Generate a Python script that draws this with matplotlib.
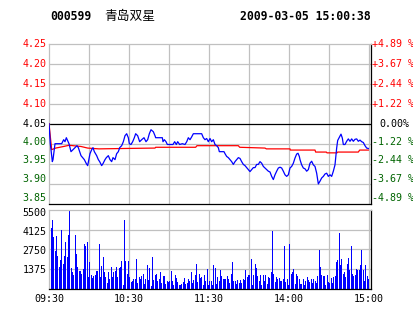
import numpy as np
import matplotlib
matplotlib.use("Agg")
import matplotlib.pyplot as plt

# ---------------- data ----------------
code = "000599"
name = "青岛双星"
stamp = "2009-03-05 15:00:38"
prev_close = 4.05

price_min = [0, 1, 2.5, 3, 4.5, 9.5, 11, 12, 13, 15, 16.5, 18, 19.5, 21, 22, 23, 24, 26.5, 28, 29,
             30.75, 32, 33, 34, 35.75, 37, 38, 39.5, 40.5, 42, 43, 44.5, 45.75, 47, 48, 49.5, 50.75,
             52, 53, 54.5, 55.75, 57, 58.25, 59.5, 60.25, 61.5, 62.75, 64, 65, 66.5, 68, 69.5, 71.25,
             72.75, 74, 75.25, 76.5, 78.25, 79.5, 80, 85, 85.5, 86.5, 87.75, 88.75, 93, 94.25, 95.5,
             96.5, 98, 100, 102, 103.3, 104.5, 105.75, 107, 108.25, 114.5, 115.75, 117, 118.25, 119.5,
             120.75, 122, 123.25, 124.5, 125.75, 127, 127.75, 131.25, 132, 133.25, 134.5, 135.75, 137,
             138.25, 139.5, 140.75, 142, 143.25, 144.5, 145.75, 147, 148.25, 149.5, 150.75, 152, 153.25,
             154.5, 155.75, 157, 158.25, 159.5, 160.75, 162, 163.25, 164.5, 165.75, 167, 168.25, 169.5,
             170.75, 172, 173.25, 174.5, 175.75, 177, 178.25, 179.5, 180.75, 182, 183.25, 184.5, 185.75,
             186.75, 187.75, 188.25, 189.5, 190.75, 192, 193.25, 194.5, 195.75, 197, 198.25, 199.5,
             200.75, 201.5, 202, 203.25, 204.5, 205.75, 207, 208.25, 209.5, 210.75, 212, 213.25, 214.5,
             215.25, 215.75, 216.5, 217.75, 219, 220, 220.75, 222, 223.25, 224.5, 225.75, 227, 228.25,
             229.5, 230.75, 232, 233.25, 234.5, 235.75, 237, 238.25, 239.5]
price = [4.05, 4.00, 3.955, 3.96, 4.00, 4.00, 4.01, 4.005, 4.015, 4.00, 3.98, 3.985, 3.99, 3.995, 3.99,
         3.98, 3.97, 3.96, 3.95, 3.945, 3.975, 3.985, 3.99, 3.98, 3.97, 3.96, 3.955, 3.945, 3.95, 3.96,
         3.965, 3.97, 3.96, 3.955, 3.965, 3.96, 3.975, 3.98, 3.99, 3.995, 4.005, 4.02, 4.025, 4.015,
         4.00, 3.998, 4.005, 4.015, 4.025, 4.02, 4.005, 4.01, 4.015, 4.005, 4.01, 4.025, 4.035, 4.03,
         4.02, 4.015, 4.015, 4.005, 4.01, 4.005, 3.998, 3.998, 4.005, 3.998, 4.005, 3.998, 4.00, 3.998,
         4.005, 4.015, 4.01, 4.017, 4.025, 4.025, 4.015, 4.01, 4.013, 4.005, 4.013, 4.005, 4.01, 3.998,
         3.995, 3.99, 3.98, 3.98, 3.975, 3.968, 3.965, 3.96, 3.955, 3.948, 3.955, 3.96, 3.965, 3.963,
         3.955, 3.948, 3.945, 3.94, 3.935, 3.93, 3.935, 3.94, 3.94, 3.948, 3.948, 3.955, 3.951, 3.943,
         3.939, 3.935, 3.931, 3.929, 3.918, 3.91, 3.922, 3.931, 3.939, 3.941, 3.939, 3.931, 3.922, 3.918,
         3.922, 3.939, 3.943, 3.951, 3.964, 3.974, 3.976, 3.968, 3.96, 3.947, 3.939, 3.937, 3.931, 3.935,
         3.951, 3.956, 3.947, 3.943, 3.926, 3.91, 3.899, 3.906, 3.914, 3.918, 3.924, 3.926, 3.918, 3.922,
         3.918, 3.931, 3.947, 3.972, 3.989, 4.008, 4.016, 4.024, 4.014, 3.998, 3.998, 4.006, 4.012,
         4.006, 4.012, 4.006, 4.011, 4.012, 4.006, 4.009, 4.005, 4.003, 3.995, 3.989, 3.988]

avg_min = [0, 2, 5, 11, 15, 24, 29, 37.5, 57, 79.5, 80, 110, 111, 142, 143, 162, 163, 180.75, 181,
           199.5, 200, 208, 208.5, 216, 216.5, 232, 233, 239.5]
avg_price = [4.05, 3.985, 3.989, 3.993, 3.996, 3.993, 3.989, 3.987, 3.988, 3.989, 3.991, 3.991, 3.995,
             3.995, 3.991, 3.989, 3.987, 3.987, 3.984, 3.984, 3.979, 3.979, 3.977, 3.977, 3.979, 3.979,
             3.984, 3.984]

volume = [4490, 4210, 4800, 3630, 2620, 3670, 2270, 1500, 1990, 4100,
          1750, 2270, 3280, 2220, 3740, 5430, 1450, 1170, 940, 3740,
          2390, 1520, 1220, 1220, 1050, 1400, 3090, 2970, 3230, 820,
          1830, 940, 750, 890, 980, 1220, 1220, 3090, 820, 1570,
          2220, 1170, 820, 420, 1170, 700, 1500, 820, 1170, 1260,
          1500, 820, 1450, 1520, 1920, 230, 4800, 1920, 1050, 1920,
          840, 470, 510, 660, 700, 2060, 420, 840, 700, 890,
          1050, 350, 660, 1640, 590, 1450, 160, 2220, 590, 940,
          1050, 510, 660, 1170, 420, 890, 890, 350, 510, 470,
          510, 1220, 560, 230, 980, 750, 470, 280, 280, 350,
          470, 750, 350, 370, 660, 510, 1170, 420, 590, 980,
          1750, 470, 1050, 750, 820, 230, 940, 510, 1360, 230,
          510, 510, 230, 1640, 1450, 350, 820, 510, 1290, 890,
          660, 660, 660, 870, 660, 420, 1050, 1870, 560, 510,
          350, 590, 420, 590, 420, 660, 590, 1290, 820, 980,
          980, 2060, 280, 940, 1750, 1450, 890, 510, 980,
          280, 940, 510, 980, 330, 820, 750, 1170, 4025, 1050,
          470, 820, 700, 750, 510, 510, 660, 3000, 470, 660,
          230, 3090, 1050, 1170, 1360, 350, 1050, 890, 700, 350,
          350, 660, 280, 510, 820, 590, 470, 660, 420, 700,
          510, 420, 890, 2690, 1520, 980, 890, 890, 280, 940,
          470, 420, 750, 420, 820, 890, 1830, 1990, 3860, 1680,
          2060, 1050, 1170, 820, 1750, 2110, 1290, 2970, 1050, 890,
          940, 1360, 1290, 1290, 1680, 2690, 1290, 510, 1680, 890,
          700]

price_ticks = [4.25, 4.20, 4.15, 4.10, 4.05, 4.00, 3.95, 3.90, 3.85]
pct_labels = ["+4.89 %", "+3.67 %", "+2.44 %", "+1.22 %", "0.00%", "-1.22 %", "-2.44 %", "-3.67 %", "-4.89 %"]
vol_ticks = [5500, 4125, 2750, 1375]
time_labels = ["09:30", "10:30", "11:30", "14:00", "15:00"]
time_pos = [0, 60, 120, 180, 240]

# ---------------- style ----------------
W, H = 414, 314
RED = "#ff0000"
GREEN = "#006400"
BLUE = "#0000ff"
GRID = "#c0c0c0"
MONO = "DejaVu Sans Mono"

fig = plt.figure(figsize=(W / 100, H / 100), dpi=100)
fig.patch.set_facecolor("white")

def fx(x):
    return x / W

def fy(y):
    return 1 - y / H

L, R = 49, 371
ax = fig.add_axes([fx(L), fy(203.5), fx(R - L), (203.5 - 44) / H])
axv = fig.add_axes([fx(L), fy(288.5), fx(R - L), (288.5 - 210) / H])

XMAX = 241.5
for a in (ax, axv):
    a.set_xlim(0, XMAX)
    a.set_xticks([])
    a.set_yticks([])
    a.set_facecolor("white")
    for t in range(30, 241, 30):
        a.axvline(t, color=GRID, lw=0.9, zorder=0)
    a.spines["left"].set_color(GRID)
    a.spines["top"].set_color(GRID)
    a.spines["right"].set_color("black")
    a.spines["bottom"].set_color("black")
    for s in a.spines.values():
        s.set_linewidth(0.9)

ax.set_ylim(3.85, 4.25)
for v in price_ticks[1:-1]:
    if abs(v - prev_close) < 1e-9:
        ax.axhline(v, color="black", lw=0.9, zorder=1)
    else:
        ax.axhline(v, color=GRID, lw=0.9, zorder=0)

ax.plot(avg_min, avg_price, color=RED, lw=0.9, zorder=3)
ax.plot(price_min, price, color=BLUE, lw=0.9, zorder=4)

axv.set_ylim(0, 5500)
for v in vol_ticks[1:]:
    axv.axhline(v, color=GRID, lw=0.9, zorder=0)
vx = np.arange(len(volume)) + 0.6
axv.bar(vx, volume, width=0.8, color=BLUE, linewidth=0, zorder=2)

# ---------------- labels ----------------
fs = 7.2
lab_off = [0, 0, 0, 0, 0, -2, -3.5, -4.5, -5.5]
for i, v in enumerate(price_ticks):
    ypx = 44 + (4.25 - v) / 0.05 * 20 + lab_off[i]
    if v > prev_close + 1e-9:
        c = RED
    elif abs(v - prev_close) < 1e-9:
        c = "black"
    else:
        c = GREEN
    fig.text(fx(46.5), fy(ypx), f"{v:.2f}", ha="right", va="center", color=c,
             family=MONO, fontsize=fs)
    lx = 379 if abs(v - prev_close) < 1e-9 else 372
    fig.text(fx(lx), fy(ypx), pct_labels[i], ha="left", va="center", color=c,
             family=MONO, fontsize=fs)

vol_off = [3, 2.5, 2.2, 1.5]
for i, v in enumerate(vol_ticks):
    ypx = 288.5 - v / 5500 * 78.5 + vol_off[i]
    fig.text(fx(46.5), fy(ypx), f"{v}", ha="right", va="center", color="black",
             family=MONO, fontsize=fs)

for lab, t in zip(time_labels, time_pos):
    xpx = L + t / XMAX * (R - L)
    fig.text(fx(xpx), fy(298.5), lab, ha="center", va="center", color="black",
             family=MONO, fontsize=fs)

fig.text(fx(50), fy(17), code, ha="left", va="center", family=MONO,
         fontweight="bold", fontsize=8.3)
fig.text(fx(104), fy(16.5), name, ha="left", va="center",
         family=["Noto Sans CJK SC", "DejaVu Sans"], fontsize=9.2)
fig.text(fx(370.5), fy(17), stamp, ha="right", va="center", family=MONO,
         fontweight="bold", fontsize=8.3)

fig.savefig("out.png", dpi=100, facecolor="white")
